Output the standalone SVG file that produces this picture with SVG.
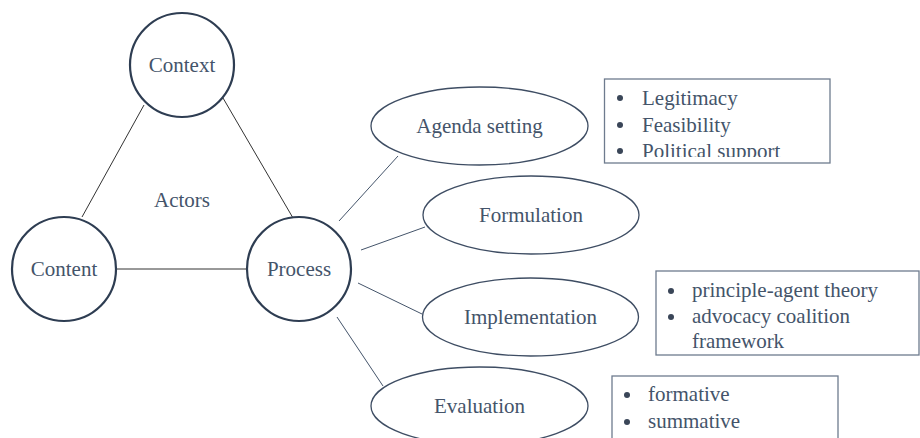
<svg xmlns="http://www.w3.org/2000/svg" width="920" height="438" viewBox="0 0 920 438">
<style>
  text{font-family:'Liberation Serif','DejaVu Serif','Times New Roman',serif;font-size:21px;fill:#44546A}
  .c{text-anchor:middle}
  .circ{fill:#fff;stroke:#2E3D52;stroke-width:2.2}
  .ell{fill:#fff;stroke:#3E4D63;stroke-width:1.3}
  .box{fill:#fff;stroke:#6E7B8E;stroke-width:1.3}
  .ln{stroke:#333;stroke-width:1;fill:none}
  .ln2{stroke:#44546A;stroke-width:1;fill:none}
  .dot{fill:#3A4658}
</style>
<defs>
  <clipPath id="clip1"><rect x="604" y="79" width="226" height="78"/></clipPath>
  <clipPath id="clip3"><rect x="612" y="376" width="226" height="60"/></clipPath>
</defs>
<rect width="920" height="438" fill="#fff"/>
<g id="connectors">
  <line class="ln" x1="144" y1="105" x2="82" y2="217"/>
  <line class="ln" x1="223" y1="98" x2="293" y2="218"/>
  <line class="ln" x1="117" y1="269" x2="247" y2="269"/>
  <line class="ln2" x1="339" y1="221" x2="398" y2="156"/>
  <line class="ln2" x1="361" y1="250" x2="425" y2="227"/>
  <line class="ln2" x1="358" y1="283" x2="422" y2="314"/>
  <line class="ln2" x1="337" y1="317" x2="383" y2="386"/>
</g>
<g id="context"><circle class="circ" cx="182" cy="65" r="52"/><text class="c" x="182" y="72">Context</text></g>
<g id="content"><circle class="circ" cx="64" cy="269" r="52"/><text class="c" x="64" y="276">Content</text></g>
<g id="process"><circle class="circ" cx="299" cy="269" r="52"/><text class="c" x="299" y="276">Process</text></g>
<g id="actors"><text class="c" x="182" y="207">Actors</text></g>
<g id="agenda"><ellipse class="ell" cx="479.5" cy="126" rx="108.5" ry="39"/><text class="c" x="479.5" y="133">Agenda setting</text></g>
<g id="formulation"><ellipse class="ell" cx="531" cy="215" rx="108" ry="39"/><text class="c" x="531" y="222">Formulation</text></g>
<g id="implementation"><ellipse class="ell" cx="530.5" cy="317" rx="108" ry="39"/><text class="c" x="530.5" y="324">Implementation</text></g>
<g id="evaluation"><ellipse class="ell" cx="479.5" cy="406" rx="108.5" ry="39"/><text class="c" x="479.5" y="413">Evaluation</text></g>
<g id="box-agenda">
  <rect class="box" x="604.5" y="79" width="225.5" height="84"/>
  <g clip-path="url(#clip1)">
    <circle class="dot" cx="620" cy="98" r="3"/><text x="642" y="105">Legitimacy</text>
    <circle class="dot" cx="620" cy="125" r="3"/><text x="642" y="132">Feasibility</text>
    <circle class="dot" cx="620" cy="151" r="3"/><text x="642" y="158">Political support</text>
  </g>
</g>
<g id="box-implementation">
  <rect class="box" x="656" y="271" width="263" height="84"/>
  <circle class="dot" cx="671" cy="291" r="3"/><text x="692" y="297">principle-agent theory</text>
  <circle class="dot" cx="671" cy="317" r="3"/><text x="692" y="323">advocacy coalition</text>
  <text x="692" y="348">framework</text>
</g>
<g id="box-evaluation">
  <rect class="box" x="612" y="376" width="226" height="70"/>
  <g clip-path="url(#clip3)">
    <circle class="dot" cx="627" cy="395" r="3"/><text x="648" y="401">formative</text>
    <circle class="dot" cx="627" cy="422" r="3"/><text x="648" y="428">summative</text>
  </g>
</g>
</svg>
